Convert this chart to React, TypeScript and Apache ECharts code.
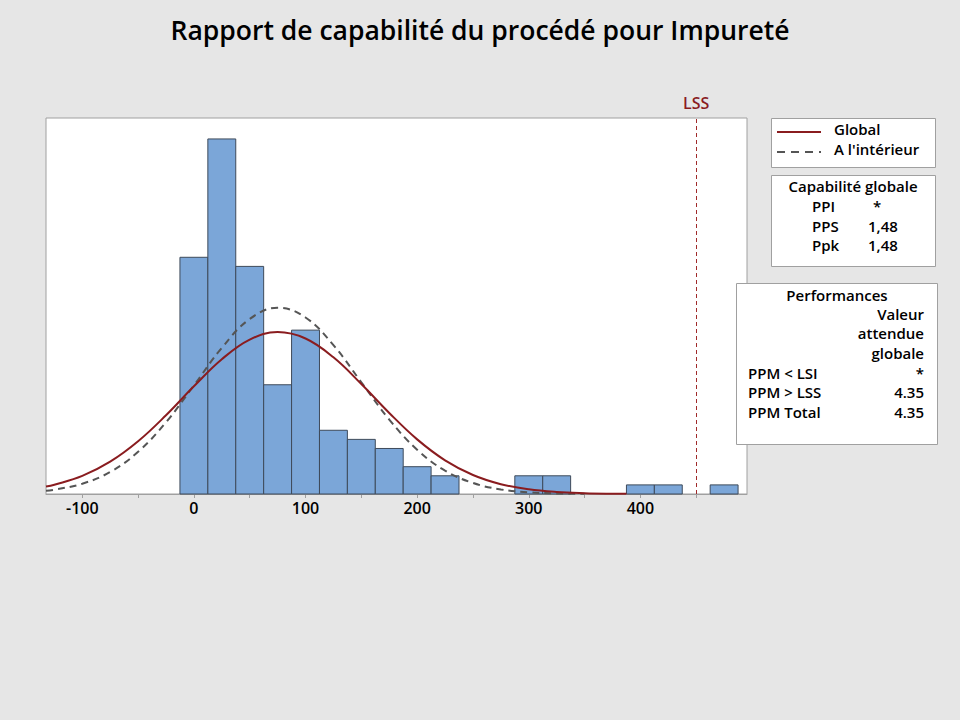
import React, { useEffect, useRef } from "react";
import * as echarts from "echarts";

// Histogram: bin centres (bin width 25) and counts
const BIN_CENTERS = [0, 25, 50, 75, 100, 125, 150, 175, 200, 225, 250, 275, 300, 325, 350, 375, 400, 425, 450, 475];
const BIN_COUNTS = [26, 39, 25, 12, 18, 7, 6, 5, 3, 2, 0, 0, 2, 2, 0, 0, 1, 1, 0, 1];
const BIN_WIDTH = 25;

// Fitted curves
const GLOBAL_X = [-132.5, -125, -100, -75, -50, -25, 0, 25, 50, 75, 100, 125, 150, 175, 200, 225, 250, 275, 300, 325, 350, 375, 387.5];
const GLOBAL_Y = [0.82, 1.02, 1.99, 3.55, 5.79, 8.65, 11.83, 14.8, 16.96, 17.79, 17.08, 15.01, 12.08, 8.9, 6.0, 3.7, 2.09, 1.08, 0.51, 0.22, 0.09, 0.03, 0.02];
const WITHIN_X = [-132.5, -125, -100, -75, -50, -25, 0, 25, 50, 75, 100, 125, 150, 175, 200, 225, 250, 275, 300, 325, 350];
const WITHIN_Y = [0.35, 0.47, 1.13, 2.42, 4.63, 7.88, 11.92, 16.05, 19.22, 20.46, 19.39, 16.35, 12.27, 8.18, 4.86, 2.56, 1.21, 0.5, 0.19, 0.06, 0.02];

const LSS = 450;
const X_LABELS = [-100, 0, 100, 200, 300, 400];
const X_TICKS = [-100, -50, 0, 50, 100, 150, 200, 250, 300, 350, 400, 450];

const TITLE = "Rapport de capabilité du procédé pour Impureté";
const LEGEND_ITEMS = ["Global", "A l'intérieur"];
const CAP_TITLE = "Capabilité globale";
const CAP_ROWS = [["PPI", "*"], ["PPS", "1,48"], ["Ppk", "1,48"]];
const PERF_TITLE = "Performances";
const PERF_HEAD = ["Valeur", "attendue", "globale"];
const PERF_ROWS = [["PPM < LSI", "*"], ["PPM > LSS", "4.35"], ["PPM Total", "4.35"]];

const FONT = "'Open Sans', 'Noto Sans', sans-serif";
const RED = "#8a1c1f";
const GREY_DASH = "#555555";

export default function App() {
  const ref = useRef<HTMLDivElement>(null);
  useEffect(() => {
    if (!ref.current) return;
    const chart = echarts.init(ref.current, null, { renderer: "svg" });
    const txt = (text: string, x: number, y: number, align: string = "left") => ({
      type: "text",
      x,
      y,
      z: 102,
      style: {
        text,
        fill: "#000",
        fontFamily: FONT,
        fontSize: 15,
        fontWeight: 600,
        lineHeight: 16,
        align,
        verticalAlign: "middle",
      },
    });
    const graphics: any[] = [
      {
        type: "text",
        x: 480,
        y: 30,
        style: {
          text: TITLE,
          fill: "#000",
          fontFamily: FONT,
          fontSize: 26.5,
          fontWeight: 600,
          align: "center",
          verticalAlign: "middle",
        },
      },
      // legend box
      { type: "rect", z: 100, shape: { x: 771.5, y: 118.5, width: 164, height: 49 }, style: { fill: "#fff", stroke: "#a0a0a0", lineWidth: 1 } },
      { type: "line", z: 101, shape: { x1: 777, y1: 132, x2: 821, y2: 132 }, style: { stroke: RED, lineWidth: 2 } },
      { type: "line", z: 101, shape: { x1: 777, y1: 152, x2: 821, y2: 152 }, style: { stroke: GREY_DASH, lineWidth: 2, lineDash: [8, 6] } },
      txt(LEGEND_ITEMS[0], 834, 129),
      txt(LEGEND_ITEMS[1], 834, 148.5),
      // capability box
      { type: "rect", z: 100, shape: { x: 771.5, y: 175.5, width: 164, height: 91 }, style: { fill: "#fff", stroke: "#a0a0a0", lineWidth: 1 } },
      txt(CAP_TITLE, 853, 186, "center"),
      ...CAP_ROWS.flatMap((r, i) => [
        txt(r[0], 812, 206 + i * 19.5),
        txt(r[1], r[1] === "*" ? 873 : 868, 206 + i * 19.5),
      ]),
      // performance box
      { type: "rect", z: 100, shape: { x: 736.5, y: 283.5, width: 201, height: 161 }, style: { fill: "#fff", stroke: "#a0a0a0", lineWidth: 1 } },
      txt(PERF_TITLE, 837, 295, "center"),
      ...PERF_HEAD.map((h, i) => txt(h, 924, 313.5 + i * 19.5, "right")),
      ...PERF_ROWS.flatMap((r, i) => [
        txt(r[0], 748, 372.5 + i * 19.5),
        txt(r[1], 924, 372.5 + i * 19.5, "right"),
      ]),
    ];

    chart.setOption({
      animation: false,
      backgroundColor: "#e6e6e6",
      grid: {
        left: 46,
        top: 118,
        right: 213,
        bottom: 226,
        show: true,
        backgroundColor: "#ffffff",
        borderColor: "#a0a0a0",
        borderWidth: 1,
      },
      xAxis: {
        type: "value",
        min: -132.5,
        max: 495.5,
        axisLine: { show: true, onZero: false, lineStyle: { color: "#a0a0a0" } },
        axisTick: {
          show: true,
          inside: false,
          length: 4,
          customValues: X_TICKS,
          lineStyle: { color: "#a0a0a0" },
        },
        axisLabel: {
          customValues: X_LABELS,
          color: "#000",
          fontSize: 16,
          fontFamily: FONT,
          fontWeight: 600,
          margin: 6,
        },
        splitLine: { show: false },
      },
      yAxis: {
        type: "value",
        min: 0,
        max: 41.3,
        show: false,
        splitLine: { show: false },
      },
      series: [
        {
          type: "custom",
          z: 2,
          data: BIN_CENTERS.map((c, i) => [c, BIN_COUNTS[i]]),
          renderItem: (params: any, api: any) => {
            const c = api.value(0);
            const v = api.value(1);
            if (!v) return null;
            const p0 = api.coord([c - BIN_WIDTH / 2, 0]);
            const p1 = api.coord([c + BIN_WIDTH / 2, v]);
            return {
              type: "rect",
              shape: { x: p0[0], y: p1[1], width: p1[0] - p0[0], height: p0[1] - p1[1] },
              style: { fill: "#7ba6d8", stroke: "#3e4a5a", lineWidth: 1 },
            };
          },
        },
        {
          type: "line",
          z: 4,
          data: GLOBAL_X.map((x, i) => [x, GLOBAL_Y[i]]),
          smooth: 0.4,
          showSymbol: false,
          symbol: "none",
          lineStyle: { color: RED, width: 2 },
          markLine: {
            silent: true,
            symbol: "none",
            data: [{ xAxis: LSS }],
            lineStyle: { color: "#a02a2a", type: [4, 3], width: 1 },
            label: {
              show: true,
              position: "end",
              formatter: "LSS",
              color: RED,
              fontSize: 16,
              fontFamily: FONT,
              fontWeight: 600,
              distance: 7,
            },
          },
        },
        {
          type: "line",
          z: 3,
          data: WITHIN_X.map((x, i) => [x, WITHIN_Y[i]]),
          smooth: 0.4,
          showSymbol: false,
          symbol: "none",
          lineStyle: { color: GREY_DASH, width: 2, type: [7, 5] },
        },
      ],
      graphic: graphics,
    });
    return () => chart.dispose();
  }, []);
  return (
    <div
      ref={ref}
      style={{ position: "absolute", left: 0, top: 0, width: 960, height: 720 }}
    />
  );
}
